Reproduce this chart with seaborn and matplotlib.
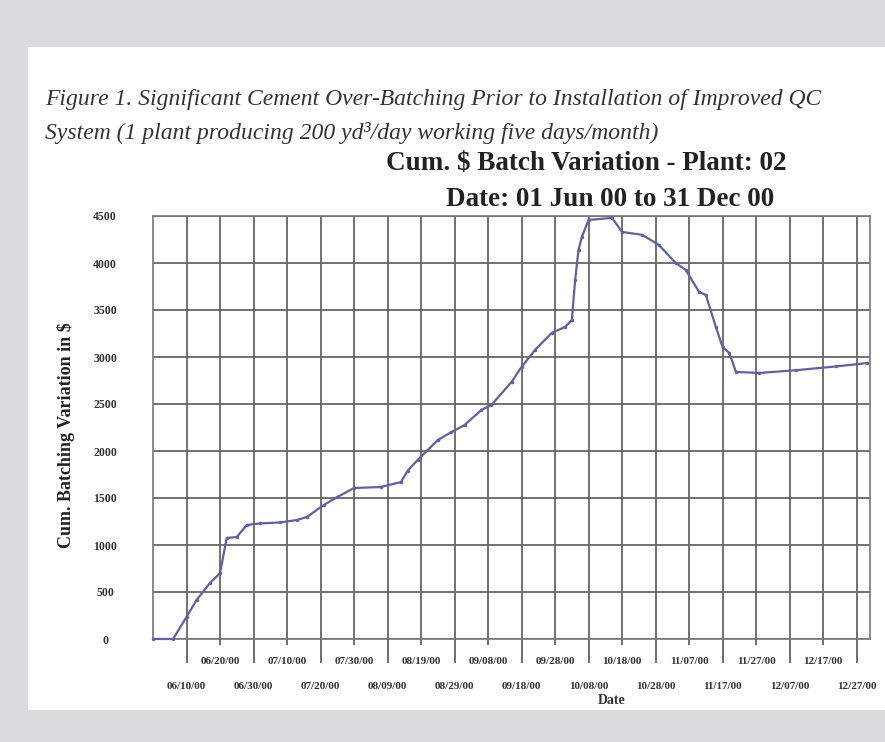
#!/usr/bin/env python3
"""
Cumulative $ batch variation for plant 02, Jun - Dec 2000
"""

import pandas as pd
import numpy as np
import matplotlib
matplotlib.use('Agg')
import matplotlib.pyplot as plt
from matplotlib.patches import Rectangle
import seaborn as sns

# Data (date, cumulative variation in $)
dates = ['2000-05-31', '2000-06-06', '2000-06-10', '2000-06-13', '2000-06-17',
         '2000-06-20', '2000-06-22', '2000-06-25', '2000-06-28', '2000-07-02',
         '2000-07-08', '2000-07-13', '2000-07-16', '2000-07-21', '2000-07-25',
         '2000-07-30', '2000-08-07', '2000-08-13', '2000-08-15', '2000-08-18',
         '2000-08-24', '2000-08-28', '2000-09-01', '2000-09-06', '2000-09-09',
         '2000-09-15', '2000-09-18', '2000-09-22', '2000-09-27', '2000-10-01',
         '2000-10-03', '2000-10-04', '2000-10-05', '2000-10-06', '2000-10-08',
         '2000-10-15', '2000-10-18', '2000-10-24', '2000-10-29', '2000-11-03',
         '2000-11-06', '2000-11-10', '2000-11-12', '2000-11-15', '2000-11-17',
         '2000-11-19', '2000-11-21', '2000-11-28', '2000-12-09', '2000-12-21',
         '2000-12-30']
values = [0, 0, 234, 415, 596,
          700, 1075, 1085, 1213, 1230,
          1240, 1266, 1300, 1426, 1510,
          1606, 1617, 1670, 1790, 1905,
          2117, 2200, 2277, 2436, 2490,
          2734, 2894, 3075, 3256, 3320,
          3394, 3820, 4139, 4277, 4458,
          4480, 4330, 4300, 4192, 4000,
          3926, 3692, 3660, 3320, 3107,
          3043, 2841, 2830, 2860, 2900,
          2935]

# tick labels: long ticks (lower row) and short ticks (upper row)
lower_ticks = ['06/10/00', '06/30/00', '07/20/00', '08/09/00', '08/29/00', '09/18/00',
               '10/08/00', '10/28/00', '11/17/00', '12/07/00', '12/27/00']
upper_ticks = ['06/20/00', '07/10/00', '07/30/00', '08/19/00', '09/08/00',
               '09/28/00', '10/18/00', '11/07/00', '11/27/00', '12/17/00']
y_ticks = [0, 500, 1000, 1500, 2000, 2500, 3000, 3500, 4000, 4500]

caption_1 = "Figure 1. Significant Cement Over-Batching Prior to Installation of Improved QC"
caption_2 = "System (1 plant producing 200 yd\u00b3/day working five days/month)"
title_1 = "Cum. $ Batch Variation - Plant: 02"
title_2 = "Date: 01 Jun 00 to 31 Dec 00"

sns.set_theme(style='white')
plt.rcParams['font.family'] = ['Liberation Serif', 'DejaVu Serif']

df = pd.DataFrame({'date': pd.to_datetime(dates), 'value': values})

fig = plt.figure(figsize=(8.85, 7.42), dpi=100)
fig.patch.set_facecolor('#dadbdd')
card = Rectangle((28 / 885, 1 - 710 / 742), 1, (710 - 47) / 742,
                 transform=fig.transFigure, facecolor='white',
                 edgecolor='none', zorder=-5)
fig.add_artist(card)

ax = fig.add_axes([153 / 885, 1 - 639 / 742, (870 - 153) / 885, (639 - 216) / 742])
ax.set_zorder(3)
ax.set_facecolor('white')

sns.lineplot(data=df, x='date', y='value', ax=ax, color='#5e60a8', linewidth=1.6,
             marker='o', markersize=2.5, markeredgewidth=0, clip_on=False, zorder=5)

ax.set_xlim(pd.Timestamp('2000-05-31'), pd.Timestamp('2000-12-31'))
ax.set_ylim(0, 4500)

# x ticks in two rows
ax.set_xticks(pd.to_datetime(lower_ticks, format='%m/%d/%y'))
ax.set_xticklabels(lower_ticks)
ax.set_xticks(pd.to_datetime(upper_ticks, format='%m/%d/%y'), minor=True)
ax.set_xticklabels(upper_ticks, minor=True)
ax.tick_params(axis='x', which='major', length=17, width=1.2, color='#555555',
               labelsize=8, pad=14, direction='out', bottom=True)
ax.tick_params(axis='x', which='minor', length=4.5, width=1.2, color='#555555',
               labelsize=8, pad=8.5, direction='out', bottom=True)
for lbl in ax.get_xticklabels(which='both'):
    lbl.set_fontweight('bold')
    lbl.set_color('#333333')

ax.set_yticks(y_ticks)
ax.set_yticklabels([str(v) for v in y_ticks])
ax.tick_params(axis='y', length=0, labelsize=8.5, pad=34.5)
for lbl in ax.get_yticklabels():
    lbl.set_fontweight('bold')
    lbl.set_color('#333333')
    lbl.set_horizontalalignment('center')

ax.grid(True, which='both', axis='x', color='#666666', linewidth=1.3)
ax.grid(True, which='major', axis='y', color='#666666', linewidth=1.3)
ax.set_axisbelow(True)
for side in ['left', 'right', 'top', 'bottom']:
    ax.spines[side].set_visible(True)
    ax.spines[side].set_color('#777777')
    ax.spines[side].set_linewidth(1.2)

ax.set_xlabel('')
ax.set_ylabel('')

fig.text(66 / 885, 1 - 435 / 742, 'Cum. Batching Variation in $', rotation=90,
         ha='center', va='center', fontsize=13, fontweight='bold', color='#222222')
fig.text(612 / 885, 1 - 700 / 742, 'Date', ha='center', va='center',
         fontsize=10, fontweight='bold', color='#333333')

fig.text(586 / 885, 1 - 163 / 742, title_1, ha='center', va='center',
         fontsize=19.5, fontweight='bold', color='#222222')
fig.text(610 / 885, 1 - 200 / 742, title_2, ha='center', va='center',
         fontsize=19.5, fontweight='bold', color='#222222')

fig.text(45 / 885, 1 - 100 / 742, caption_1, ha='left', va='center',
         fontsize=17, style='italic', color='#333333')
fig.text(45 / 885, 1 - 133 / 742, caption_2, ha='left', va='center',
         fontsize=17, style='italic', color='#333333')

fig.savefig('out.png', dpi=100, facecolor=fig.get_facecolor())
